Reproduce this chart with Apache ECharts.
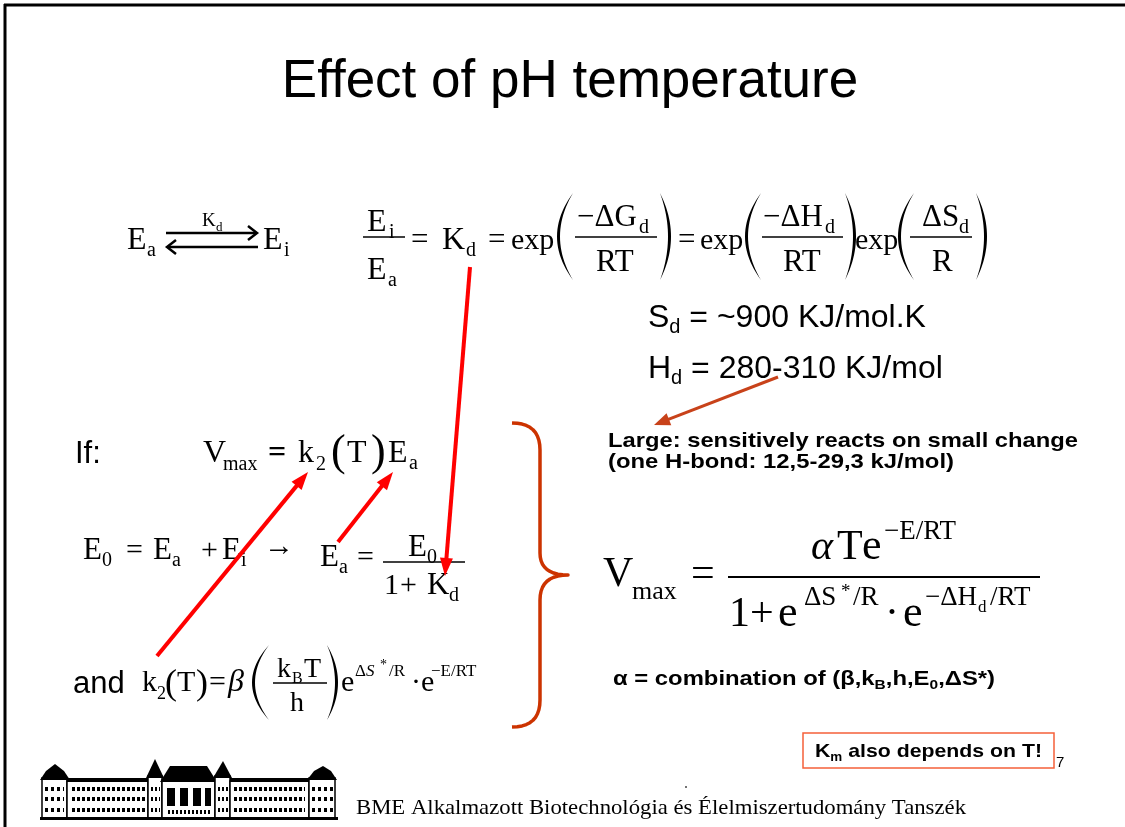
<!DOCTYPE html>
<html>
<head>
<meta charset="utf-8">
<title>Effect of pH temperature</title>
<script src="https://cdn.jsdelivr.net/npm/echarts@6/dist/echarts.min.js"></script>
<style>
  html, body { margin: 0; padding: 0; background: #fff; }
  #slide { width: 1125px; height: 827px; }
</style>
</head>
<body>
<div id="slide"></div>
<script>
// slide texts
const titleText = 'Effect of pH temperature';
const constNotes = [
  ['S', 'd', ' = ~900 KJ/mol.K'],
  ['H', 'd', ' = 280-310 KJ/mol'],
];
const largeNote = ['Large: sensitively reacts on small change', '(one H-bond: 12,5-29,3 kJ/mol)'];
const leftLabels = ['If:', 'and'];
const alphaNote = ['\u03b1 = combination of (\u03b2,k', 'B', ',h,E', '0', ',\u0394S*)'];
const kmNote = ['K', 'm', ' also depends on T!'];
const footerText = 'BME Alkalmazott Biotechnológia és Élelmiszertudomány Tanszék';
const pageNumber = '7';

const SERIF = '"Liberation Serif", "Times New Roman", serif';
const SANS = '"Liberation Sans", Arial, sans-serif';
const RED = '#ff0000';
const ORANGE = '#c8421a';

const mctx = document.createElement('canvas').getContext('2d');

function fontOf(size, o) {
  return (o.italic ? 'italic ' : '') + (o.bold ? 'bold ' : '') + size + 'px ' + (o.sans ? SANS : SERIF);
}
function measure(t, size, o) {
  mctx.font = fontOf(size, o || {});
  return mctx.measureText(t).width * ((o && o.sx) || 1);
}
// text placed by its left edge and baseline
function tx(x, base, t, size, o = {}) {
  const el = {
    type: 'text', x: x, y: base - 0.29 * size, silent: true,
    style: {
      text: t, font: fontOf(size, o), fill: o.color || '#000',
      align: o.align || 'left', verticalAlign: 'middle',
      textAlign: o.align || 'left', textVerticalAlign: 'middle',
    },
  };
  if (o.sx) el.scaleX = o.sx;
  return el;
}
// a run of pieces (sub/superscripts) squeezed or stretched to a given width
function seq(x, base, parts, fitW) {
  let sx = 1;
  if (fitW) {
    const w = parts.reduce((s, p) => s + measure(p[0], p[1], p[3]), 0);
    sx = fitW / w;
  }
  const out = [];
  let cx = x;
  parts.forEach(([t, size, dy, o]) => {
    o = Object.assign({}, o || {}, { sx });
    out.push(tx(cx, base + (dy || 0), t, size, o));
    cx += measure(t, size, o);
  });
  return out;
}
function ln(x1, y1, x2, y2, w, c) {
  return { type: 'line', silent: true, shape: { x1, y1, x2, y2 }, style: { stroke: c || '#000', lineWidth: w || 1.6 } };
}
function bar(x1, x2, y, w) { return ln(x1, y, x2, y, w || 1.6); }
function arrow(x1, y1, x2, y2, w, c, hl, hw) {
  const a = Math.atan2(y2 - y1, x2 - x1);
  const bx = x2 - hl * Math.cos(a), by = y2 - hl * Math.sin(a);
  const px = -Math.sin(a) * hw / 2, py = Math.cos(a) * hw / 2;
  return [
    ln(x1, y1, bx + Math.cos(a) * 2, by + Math.sin(a) * 2, w, c),
    { type: 'polygon', silent: true, shape: { points: [[x2, y2], [bx + px, by + py], [bx - px, by - py]] }, style: { fill: c } },
  ];
}
function quad(p0, c, p1, n) {
  const pts = [];
  for (let i = 0; i <= n; i++) {
    const t = i / n, u = 1 - t;
    pts.push([u * u * p0[0] + 2 * u * t * c[0] + t * t * p1[0], u * u * p0[1] + 2 * u * t * c[1] + t * t * p1[1]]);
  }
  return pts;
}
// tall bracket drawn as a crescent
function paren(x, top, bot, w, side, th) {
  th = th || 3;
  const mid = (top + bot) / 2;
  let outer, inner;
  if (side === 'L') {
    outer = quad([x + w, top], [x - w, mid], [x + w, bot], 24);
    inner = quad([x + w, bot], [x + 2 * th - w, mid], [x + w, top], 24);
  } else {
    outer = quad([x, top], [x + 2 * w, mid], [x, bot], 24);
    inner = quad([x, bot], [x + 2 * w - 2 * th, mid], [x, top], 24);
  }
  return { type: 'polygon', silent: true, shape: { points: outer.concat(inner) }, style: { fill: '#000' } };
}

const els = [];

// frame
els.push(ln(5, 4, 5, 827, 3), ln(4, 5, 1125, 5, 3));

// title
els.push(tx(570, 98, titleText, 53, { sans: true, align: 'center' }));

// Ea <-> Ei
els.push(tx(127, 250, 'E', 32), tx(147, 257, 'a', 20), tx(263, 250, 'E', 32), tx(284, 257, 'i', 20));
els.push(tx(202, 227, 'K', 19), tx(216, 231, 'd', 13));
els.push(ln(166, 233, 256, 233, 2.5), { type: 'polyline', silent: true, shape: { points: [[248, 226], [257, 233], [248, 240]] }, style: { stroke: '#000', lineWidth: 2.5, fill: null } });
els.push(ln(168, 247, 258, 247, 2.5), { type: 'polyline', silent: true, shape: { points: [[176, 240], [167, 247], [176, 254]] }, style: { stroke: '#000', lineWidth: 2.5, fill: null } });

// Ei/Ea = Kd = exp(...) = exp(...)exp(...)
els.push(tx(367, 232, 'E', 32), tx(389, 239, 'i', 20), bar(363, 405, 237), tx(367, 280, 'E', 32), tx(388, 287, 'a', 20));
els.push(tx(411, 250, '=', 31), tx(442, 250, 'K', 32), tx(466, 257, 'd', 20), tx(488, 250, '=', 31), tx(511, 250, 'exp', 30));
els.push(paren(557, 193, 280, 16, 'L'));
els.push(tx(577, 227, '\u2212\u0394G', 31), tx(639, 234, 'd', 20), bar(575, 657, 237), tx(596, 272, 'RT', 31));
els.push(paren(660, 193, 280, 11, 'R'));
els.push(tx(678, 250, '=', 31), tx(700, 250, 'exp', 30));
els.push(paren(745, 193, 280, 16, 'L'));
els.push(tx(763, 227, '\u2212\u0394H', 31), tx(825, 234, 'd', 20), bar(762, 843, 237), tx(783, 272, 'RT', 31));
els.push(paren(845, 193, 280, 11, 'R'));
els.push(tx(855, 250, 'exp', 30));
els.push(paren(898, 193, 280, 16, 'L'));
els.push(tx(922, 227, '\u0394S', 31), tx(959, 234, 'd', 20), bar(910, 972, 237), tx(932, 272, 'R', 31));
els.push(paren(976, 193, 280, 11, 'R'));

// Sd, Hd
constNotes.forEach((n, i) => {
  const b = 327 + i * 51;
  els.push(...seq(648, b, [[n[0], 32, 0, { sans: true }], [n[1], 20, 6, { sans: true }], [n[2], 32, 0, { sans: true }]]));
});
els.push(...arrow(778, 377, 654, 425, 3, ORANGE, 16, 13));
els.push(...seq(608, 447, [[largeNote[0], 21, 0, { sans: true, bold: true }]], 470));
els.push(...seq(608, 468, [[largeNote[1], 21, 0, { sans: true, bold: true }]], 346));

// If: Vmax = k2(T) Ea
els.push(tx(75, 463, leftLabels[0], 31, { sans: true }));
els.push(tx(203, 463, 'V', 32), tx(223, 471, 'max', 20), tx(268, 463, '=', 32, { bold: true }), tx(298, 463, 'k', 32), tx(316, 471, '2', 20));
els.push(tx(331, 466, '(', 44), tx(347, 463, 'T', 32), tx(371, 466, ')', 44), tx(388, 463, 'E', 32), tx(409, 470, 'a', 20));

// E0 = Ea + Ei ->  Ea = E0/(1+Kd)
els.push(tx(83, 560, 'E', 31), tx(102, 567, '0', 20), tx(126, 560, '=', 30), tx(153, 560, 'E', 31), tx(172, 567, 'a', 20));
els.push(tx(201, 560, '+', 30), tx(222, 560, 'E', 31), tx(241, 567, 'i', 20), tx(264, 556, '\u2192', 30));
els.push(tx(320, 567, 'E', 31), tx(339, 574, 'a', 20), tx(357, 567, '=', 30), bar(383, 465, 562));
els.push(tx(408, 557, 'E', 31), tx(427, 564, '0', 20), tx(384, 595, '1', 30), tx(400, 595, '+', 30), tx(427, 595, 'K', 31), tx(449, 602, 'd', 20));

// and k2(T) = beta (kB T / h) e^... . e^...
els.push(tx(73, 693, leftLabels[1], 31, { sans: true }));
els.push(tx(142, 692, 'k', 30), tx(157, 699, '2', 18), tx(165, 695, '(', 36), tx(177, 692, 'T', 30), tx(196, 695, ')', 36), tx(209, 692, '=', 30));
els.push(tx(228, 692, '\u03b2', 32, { italic: true }), paren(252, 645, 720, 17, 'L'));
els.push(tx(277, 678, 'k', 28), tx(292, 683, 'B', 16), tx(304, 678, 'T', 28), bar(273, 327, 683), tx(290, 712, 'h', 28));
els.push(paren(327, 645, 720, 11, 'R'));
els.push(tx(341, 692, 'e', 30), tx(355, 676, '\u0394', 17), tx(366, 676, 'S', 17, { italic: true }), tx(380, 669, '*', 14), tx(389, 676, '/R', 17));
els.push(tx(411, 692, '\u00b7', 30), tx(421, 692, 'e', 30), tx(431, 676, '\u2212E/RT', 17));

// brace
(function () {
  let pts = quad([512, 423], [540, 423], [540, 450], 10);
  pts = pts.concat(quad([540, 553], [540, 575], [568, 575], 10));
  pts = pts.concat(quad([568, 575], [540, 575], [540, 600], 10).slice(1));
  pts = pts.concat(quad([540, 700], [540, 727], [512, 727], 10));
  els.push({ type: 'polyline', silent: true, shape: { points: pts }, style: { stroke: '#cc3300', lineWidth: 3.5, fill: null, lineJoin: 'round' } });
})();

// Vmax = alpha T e^-E/RT / (1 + e^dS*/R . e^-dHd/RT)
els.push(tx(603, 587, 'V', 42), tx(632, 600, 'max', 26), tx(691, 587, '=', 42), bar(728, 1040, 577, 2));
els.push(tx(811, 560, '\u03b1', 42, { italic: true }), tx(837, 560, 'T', 42), tx(862, 560, 'e', 44), tx(884, 540, '\u2212E/RT', 27));
els.push(tx(729, 627, '1', 42), tx(750, 627, '+', 42), tx(778, 627, 'e', 44), tx(804, 606, '\u0394S', 27), tx(841, 598, '*', 19), tx(853, 606, '/R', 27));
els.push(tx(885, 627, '\u00b7', 42), tx(903, 627, 'e', 44), tx(925, 606, '\u2212\u0394H', 27), tx(978, 612, 'd', 17), tx(990, 606, '/RT', 27));

els.push(...seq(613, 685, [
  [alphaNote[0], 20, 0, { sans: true, bold: true }], [alphaNote[1], 13, 4, { sans: true, bold: true }],
  [alphaNote[2], 20, 0, { sans: true, bold: true }], [alphaNote[3], 13, 4, { sans: true, bold: true }],
  [alphaNote[4], 20, 0, { sans: true, bold: true }],
], 382));

// red arrows
els.push(...arrow(470, 267, 445, 576, 4, RED, 18, 13));
els.push(...arrow(157, 656, 308, 472, 4, RED, 18, 13));
els.push(...arrow(338, 542, 393, 472, 4, RED, 18, 13));

// Km box
els.push({ type: 'rect', silent: true, shape: { x: 803, y: 733, width: 251, height: 35 }, style: { fill: '#fff', stroke: '#f5603a', lineWidth: 1.5 } });
els.push(...seq(815, 757, [[kmNote[0], 19, 0, { sans: true, bold: true }], [kmNote[1], 12, 4, { sans: true, bold: true }], [kmNote[2], 19, 0, { sans: true, bold: true }]], 227));
els.push(tx(1056, 767, pageNumber, 15, { sans: true }));

// footer
els.push(...seq(356, 815, [[footerText, 21, 0, {}]], 610));
els.push({ type: 'circle', silent: true, shape: { cx: 686, cy: 787, r: 1 }, style: { fill: '#444' } });

// building logo
(function () {
  const blk = { fill: '#000' };
  const box = (x, y, w, h) => ({ type: 'rect', silent: true, shape: { x, y, width: w, height: h }, style: { fill: '#fff', stroke: '#000', lineWidth: 1.5 } });
  const fillR = (x, y, w, h) => ({ type: 'rect', silent: true, shape: { x, y, width: w, height: h }, style: blk });
  const poly = (pts) => ({ type: 'polygon', silent: true, shape: { points: pts }, style: blk });
  const win = (x1, x2, y, d) => ({ type: 'line', silent: true, shape: { x1, y1: y, x2, y2: y }, style: { stroke: '#000', lineWidth: 4, lineDash: d || [3, 2] } });
  els.push(box(42, 778, 25, 40), poly([[40, 780], [46, 771], [55, 764], [64, 771], [70, 780]]));
  els.push(box(67, 781, 81, 37), fillR(67, 778, 81, 4));
  els.push(box(148, 776, 14, 42), poly([[146, 778], [155, 759], [164, 778]]));
  els.push(box(162, 780, 53, 38), poly([[160, 782], [170, 766], [207, 766], [217, 782]]));
  els.push(box(215, 776, 15, 42), poly([[213, 778], [223, 761], [232, 778]]));
  els.push(box(230, 781, 79, 37), fillR(230, 778, 79, 4));
  els.push(box(309, 778, 26, 40), poly([[307, 780], [314, 771], [323, 766], [331, 771], [337, 780]]));
  [789, 799, 810].forEach((y) => {
    els.push(win(72, 145, y), win(234, 305, y), win(45, 64, y, [3, 3]), win(312, 333, y, [3, 3]), win(151, 160, y, [2, 2]), win(218, 228, y, [2, 2]));
  });
  els.push(fillR(167, 788, 8, 18), fillR(180, 788, 8, 18), fillR(193, 788, 8, 18), fillR(205, 788, 6, 18));
  els.push(win(168, 210, 812, [2, 2]));
  els.push(fillR(40, 817, 298, 3));
})();

const chart = echarts.init(document.getElementById('slide'), null, { renderer: 'canvas' });
chart.setOption({
  backgroundColor: '#fff',
  animation: false,
  graphic: { elements: els },
});
</script>
</body>
</html>
